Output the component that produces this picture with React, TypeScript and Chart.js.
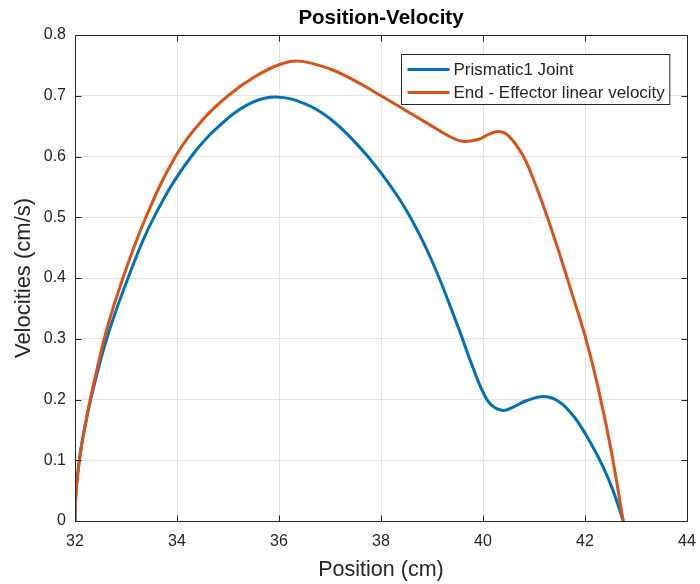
import React, { useEffect, useRef } from "react";
import { Chart, registerables } from "chart.js";

Chart.register(...registerables);

// Prismatic1 joint velocity vs position
const jointPositions = [32.0, 32.015, 32.05, 32.12, 32.25, 32.4, 32.67, 33.04, 33.53, 34.28, 35.0, 35.5, 35.95, 36.5, 36.99, 37.51, 38.0, 38.5, 39.0, 39.5, 39.8, 40.0, 40.15, 40.39, 40.6, 40.85, 41.2, 41.5, 41.8, 42.1, 42.35, 42.55, 42.75];
const jointVelocities = [0, 0.04, 0.075, 0.12, 0.178, 0.232, 0.313, 0.4, 0.497, 0.6, 0.663, 0.69, 0.698, 0.687, 0.663, 0.622, 0.573, 0.511, 0.428, 0.322, 0.253, 0.212, 0.192, 0.182, 0.188, 0.198, 0.205, 0.196, 0.17, 0.13, 0.09, 0.05, 0];

// End-effector linear velocity vs position
const effectorPositions = [32.0, 32.015, 32.05, 32.12, 32.25, 32.4, 32.62, 32.94, 33.39, 33.97, 34.5, 35.0, 35.5, 36.0, 36.4, 37.0, 37.5, 38.0, 38.5, 39.0, 39.3, 39.6, 39.9, 40.1, 40.3, 40.5, 40.78, 41.0, 41.25, 41.5, 41.75, 42.0, 42.25, 42.5, 42.75];
const effectorVelocities = [0, 0.04, 0.075, 0.12, 0.18, 0.238, 0.315, 0.4, 0.5, 0.6, 0.66, 0.7, 0.73, 0.751, 0.757, 0.744, 0.724, 0.7, 0.675, 0.65, 0.635, 0.625, 0.628, 0.636, 0.641, 0.634, 0.602, 0.56, 0.503, 0.44, 0.373, 0.305, 0.222, 0.122, 0];

const seriesLabels = ["Prismatic1 Joint", "End - Effector linear velocity"];
const seriesColors = ["#0072BD", "#D95319"];
const chartTitle = "Position-Velocity";

const xTicks = [32, 34, 36, 38, 40, 42, 44];
const yTicks = [0, 0.1, 0.2, 0.3, 0.4, 0.5, 0.6, 0.7, 0.8];

const FONT = "'Liberation Sans', Arial, Helvetica, sans-serif";
const AXIS_COLOR = "#262626";

const toPoints = (xs: number[], ys: number[]) => xs.map((x, i) => ({ x, y: ys[i] }));

// Bold title centred over the axes
const axesTitlePlugin = {
  id: "axesTitle",
  afterDraw(chart: any) {
    const { ctx, chartArea: a } = chart;
    ctx.save();
    ctx.font = `bold 20.5px ${FONT}`;
    ctx.fillStyle = "#000000";
    ctx.textAlign = "center";
    ctx.textBaseline = "middle";
    ctx.fillText(chartTitle, (a.left + a.right) / 2, 18);
    ctx.restore();
  },
};

// Box around the axes with inward ticks on every side
const framePlugin = {
  id: "frame",
  afterDatasetsDraw(chart: any) {
    const { ctx, chartArea: a, scales } = chart;
    ctx.save();
    ctx.strokeStyle = AXIS_COLOR;
    ctx.lineWidth = 1;
    const L = Math.round(a.left) + 0.5;
    const R = Math.round(a.right) + 0.5;
    const T = Math.round(a.top) + 0.5;
    const B = Math.round(a.bottom) + 0.5;
    ctx.beginPath();
    ctx.rect(L, T, R - L, B - T);
    const len = 6;
    xTicks.forEach((v) => {
      const px = Math.round(scales.x.getPixelForValue(v)) + 0.5;
      ctx.moveTo(px, B);
      ctx.lineTo(px, B - len);
      ctx.moveTo(px, T);
      ctx.lineTo(px, T + len);
    });
    yTicks.forEach((v) => {
      const py = Math.round(scales.y.getPixelForValue(v)) + 0.5;
      ctx.moveTo(L, py);
      ctx.lineTo(L + len, py);
      ctx.moveTo(R, py);
      ctx.lineTo(R - len, py);
    });
    ctx.stroke();
    ctx.restore();
  },
};

// Boxed legend in the upper-right corner of the axes
const boxLegendPlugin = {
  id: "boxLegend",
  afterDraw(chart: any) {
    const { ctx, chartArea: a } = chart;
    const datasets = chart.data.datasets;
    ctx.save();
    ctx.font = `17px ${FONT}`;
    const textW = Math.max(...datasets.map((d: any) => ctx.measureText(d.label).width));
    const padL = 6, lineLen = 42, gap = 4, padR = 5, rowH = 23, firstRow = 15;
    const w = padL + lineLen + gap + textW + padR;
    const h = 50;
    const right = a.right - 18;
    const left = Math.round(right - w) + 0.5;
    const top = Math.round(a.top + 19) + 0.5;
    ctx.fillStyle = "#ffffff";
    ctx.fillRect(left, top, w, h);
    ctx.strokeStyle = AXIS_COLOR;
    ctx.lineWidth = 1;
    ctx.strokeRect(left, top, w, h);
    datasets.forEach((d: any, i: number) => {
      const cy = top + firstRow + rowH * i;
      ctx.strokeStyle = d.borderColor;
      ctx.lineWidth = 3;
      ctx.beginPath();
      ctx.moveTo(left + padL, cy);
      ctx.lineTo(left + padL + lineLen, cy);
      ctx.stroke();
      ctx.fillStyle = AXIS_COLOR;
      ctx.textBaseline = "middle";
      ctx.textAlign = "left";
      ctx.fillText(d.label, left + padL + lineLen + gap, cy + 0.5);
    });
    ctx.restore();
  },
};

export default function App() {
  const canvasRef = useRef<HTMLCanvasElement | null>(null);

  useEffect(() => {
    document.body.style.margin = "0";
    const canvas = canvasRef.current;
    if (!canvas) return;
    const lineStyle = {
      showLine: true,
      borderWidth: 3,
      pointRadius: 0,
      tension: 0.4,
    };
    const chart = new Chart(canvas, {
      type: "scatter",
      data: {
        datasets: [
          {
            ...lineStyle,
            label: seriesLabels[0],
            data: toPoints(jointPositions, jointVelocities),
            borderColor: seriesColors[0],
            backgroundColor: seriesColors[0],
            order: 1,
          },
          {
            ...lineStyle,
            label: seriesLabels[1],
            data: toPoints(effectorPositions, effectorVelocities),
            borderColor: seriesColors[1],
            backgroundColor: seriesColors[1],
            order: 0,
          },
        ],
      },
      options: {
        responsive: false,
        animation: false,
        events: [],
        layout: { padding: { left: 0, right: 13, top: 35, bottom: 0 } },
        plugins: {
          legend: { display: false },
          tooltip: { enabled: false },
          title: { display: false },
        },
        scales: {
          x: {
            type: "linear",
            min: 32,
            max: 44,
            afterFit: (s: any) => {
              s.height = 63;
              s.paddingLeft = 0;
              s.paddingRight = 0;
            },
            afterBuildTicks: (s: any) => {
              s.ticks = xTicks.map((v) => ({ value: v }));
            },
            ticks: {
              color: AXIS_COLOR,
              font: { family: FONT, size: 16 },
              padding: 11,
              maxRotation: 0,
              callback: (v: any) => String(v),
            },
            grid: { color: "#e3e3e3", drawTicks: false, lineWidth: 1 },
            border: { display: false },
            title: {
              display: true,
              text: "Position (cm)",
              color: AXIS_COLOR,
              font: { family: FONT, size: 21.5 },
              padding: { top: 2, bottom: 1 },
            },
          },
          y: {
            type: "linear",
            min: 0,
            max: 0.8,
            afterFit: (s: any) => {
              s.width = 75;
              s.paddingTop = 0;
              s.paddingBottom = 0;
            },
            afterBuildTicks: (s: any) => {
              s.ticks = yTicks.map((v) => ({ value: v }));
            },
            ticks: {
              color: AXIS_COLOR,
              font: { family: FONT, size: 16 },
              padding: 9,
              callback: (v: any) => String(Number(Number(v).toFixed(1))),
            },
            grid: { color: "#e3e3e3", drawTicks: false, lineWidth: 1 },
            border: { display: false },
            title: {
              display: true,
              text: "Velocities (cm/s)",
              color: AXIS_COLOR,
              font: { family: FONT, size: 22 },
              padding: { top: 10.8, bottom: 2 },
            },
          },
        },
      },
      plugins: [framePlugin, boxLegendPlugin, axesTitlePlugin],
    } as any);
    return () => chart.destroy();
  }, []);

  return (
    <div style={{ width: 700, height: 584, background: "#ffffff" }}>
      <canvas ref={canvasRef} width={700} height={584} />
    </div>
  );
}
